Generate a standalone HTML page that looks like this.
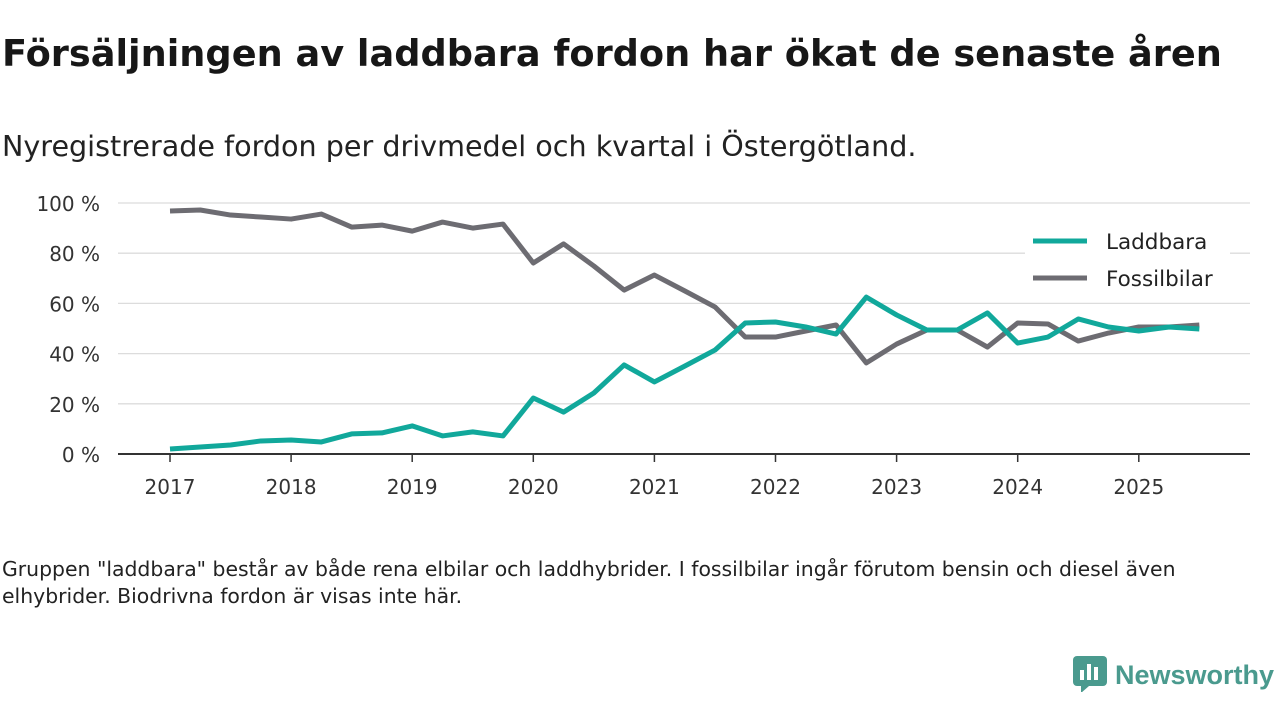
<!DOCTYPE html>
<html><head><meta charset="utf-8"><style>
body{margin:0;background:#fff;font-family:"DejaVu Sans",sans-serif;color:#111;}
#wrap{position:relative;width:1280px;height:720px;overflow:hidden;}
h1{position:absolute;left:2px;top:32px;margin:0;font-size:36.7px;font-weight:bold;color:#171717;white-space:nowrap}
.sub{position:absolute;left:2px;top:129px;font-size:28.6px;color:#222;white-space:nowrap}
.note{position:absolute;left:2px;top:556px;font-size:20.4px;line-height:27px;color:#222;width:1220px}
.logo{position:absolute;left:1073px;top:656px;font-size:27px;font-weight:bold;color:#4a9a8e;font-family:"Liberation Sans",sans-serif}
</style></head><body><div id="wrap">
<h1>Försäljningen av laddbara fordon har ökat de senaste åren</h1>
<div class="sub">Nyregistrerade fordon per drivmedel och kvartal i Östergötland.</div>
<svg id="chart" width="1280" height="720" style="position:absolute;left:0;top:0"></svg>
<div class="note">Gruppen "laddbara" består av både rena elbilar och laddhybrider. I fossilbilar ingår förutom bensin och diesel även elhybrider. Biodrivna fordon är visas inte här.</div>
<div class="logo"><svg width="34" height="36" style="vertical-align:-8px;margin-right:8px"><rect x="0" y="0" width="34" height="30" rx="4" fill="#4a9a8e"/><polygon points="8,30 16,30 8,37" fill="#4a9a8e"/><rect x="7" y="14" width="4" height="10" fill="#fff"/><rect x="14" y="8" width="4" height="16" fill="#fff"/><rect x="21" y="11" width="4" height="13" fill="#fff"/></svg>Newsworthy</div>
</div>
<script>
const years=[2017,2018,2019,2020,2021,2022,2023,2024,2025];
const yTicks=[0,20,40,60,80,100];
const laddbara=[2,2.8,3.6,5.2,5.6,4.8,8,8.4,11.2,7.2,8.8,7.2,22.3,16.7,24.3,35.5,28.7,35,41.4,52.2,52.6,50.6,47.8,62.5,55.4,49.4,49.4,56.2,44.2,46.6,53.8,50.6,49,50.6,49.8];
const fossil=[96.8,97.2,95.2,94.4,93.6,95.6,90.4,91.2,88.8,92.4,90,91.6,76.1,83.7,74.9,65.3,71.3,65,58.6,46.6,46.6,49,51.4,36.3,43.8,49.4,49.4,42.6,52.2,51.8,45,48.2,50.6,50.6,51.4];
const svg=document.getElementById('chart');const NS='http://www.w3.org/2000/svg';
const X=t=>170+(t-2017)*121.1, Y=v=>454-v*2.51;
function mk(tag,a,txt){const e=document.createElementNS(NS,tag);for(const k in a)e.setAttribute(k,a[k]);if(txt!=null)e.textContent=txt;svg.appendChild(e);return e;}
yTicks.forEach(v=>{
 const l=mk('line',{x1:118,x2:1250,y1:Y(v),y2:Y(v),stroke:v?'#dcdcdc':'#333','stroke-width':v?1.3:2});
 
 
 const t=mk('text',{x:100,y:Y(v)+8,'text-anchor':'end','font-size':20,fill:'#333','font-family':'DejaVu Sans'},v+' %');
 
 
});
years.forEach(y=>{
 const tk=mk('line',{x1:X(y),x2:X(y),y1:454,y2:462,stroke:'#333','stroke-width':1.5});
 
 
 const t=mk('text',{x:X(y),y:494,'text-anchor':'middle','font-size':20,fill:'#333','font-family':'DejaVu Sans'},y);
 
 
});
function line(d,c,n){const p=mk('polyline',{points:d.map((v,i)=>X(2017+i/4)+','+Y(v)).join(' '),fill:'none',stroke:c,'stroke-width':5,'stroke-linejoin':'round'});
 
 }
line(fossil,'#6d6c72','series-fossilbilar');
line(laddbara,'#11a89b','series-laddbara');
const lb=mk('rect',{x:1025,y:222,width:205,height:80,fill:'#fff'});


[['Laddbara','#11a89b',241],['Fossilbilar','#6d6c72',278]].forEach(([n,c,y])=>{
 const l=mk('line',{x1:1033,x2:1087,y1:y,y2:y,stroke:c,'stroke-width':5});
 
 
 const t=mk('text',{x:1106,y:y+8,'font-size':21.5,fill:'#222','font-family':'DejaVu Sans'},n);
 
 
});
</script></body></html>
